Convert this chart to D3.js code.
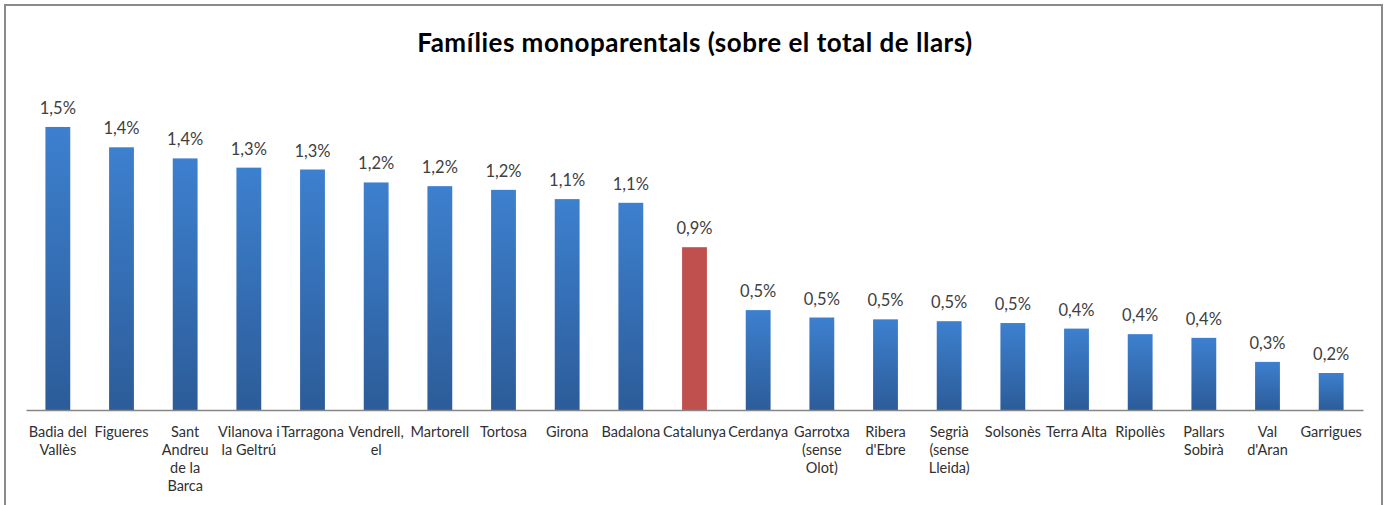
<!DOCTYPE html>
<html>
<head>
<meta charset="utf-8">
<script src="https://cdn.jsdelivr.net/npm/d3@7"></script>
<style>
  body { margin: 0; background: #fff; }
  text { font-family: Lato, "Open Sans", sans-serif; }
</style>
</head>
<body>
<div class="canva"></div>
<script>
// categories ("\n" = line break as shown under the axis)
const categories = [
  'Badia del\nVallès', 'Figueres', 'Sant\nAndreu\nde la\nBarca', 'Vilanova i\nla Geltrú',
  'Tarragona', 'Vendrell,\nel', 'Martorell', 'Tortosa', 'Girona', 'Badalona',
  'Catalunya', 'Cerdanya', 'Garrotxa\n(sense\nOlot)', 'Ribera\nd\'Ebre',
  'Segrià\n(sense\nLleida)', 'Solsonès', 'Terra Alta', 'Ripollès', 'Pallars\nSobirà',
  'Val\nd\'Aran', 'Garrigues'
];

// % of households
const values = [
  1.53, 1.42, 1.36, 1.31, 1.30, 1.23, 1.21, 1.19, 1.14, 1.12,
  0.88, 0.54, 0.50, 0.49, 0.48, 0.47, 0.44, 0.41, 0.39, 0.26, 0.20
];

const highlight = 'Catalunya';

const title = 'Famílies monoparentals (sobre el total de llars)';

const W = 1391, H = 505;

const svg = d3.select('.canva').append('svg')
    .attr('width', W)
    .attr('height', H);

// chart frame
svg.append('rect')
    .attr('x', 5).attr('y', 5)
    .attr('width', 1377).attr('height', 620)
    .attr('fill', '#fff')
    .attr('stroke', '#8a8a8a')
    .attr('stroke-width', 2);

const grad = svg.append('defs').append('linearGradient')
    .attr('id', 'blueGrad')
    .attr('x1', 0).attr('y1', 0).attr('x2', 0).attr('y2', 1);
grad.append('stop').attr('offset', '0%').attr('stop-color', '#3d80cf');
grad.append('stop').attr('offset', '100%').attr('stop-color', '#2c5c99');

const x = d3.scaleBand()
    .domain(categories)
    .range([26, 1363])
    .paddingInner(0.61)
    .paddingOuter(0.305);

const y = d3.scaleLinear()
    .domain([0, 1.6])
    .range([410, 114]);

const data = categories.map((c, i) => ({ cat: c, val: values[i] }));

svg.selectAll('rect.bar')
    .data(data)
    .enter().append('rect')
    .attr('class', 'bar')
    .attr('x', d => x(d.cat))
    .attr('width', x.bandwidth())
    .attr('y', d => y(d.val))
    .attr('height', d => y(0) - y(d.val))
    .attr('fill', d => d.cat === highlight ? '#c0504d' : 'url(#blueGrad)');

// value labels
const fmt = v => d3.format('.1f')(v).replace('.', ',') + '%';
svg.selectAll('text.val')
    .data(data)
    .enter().append('text')
    .attr('class', 'val')
    .attr('x', d => x(d.cat) + x.bandwidth() / 2)
    .attr('y', d => y(d.val) - 13)
    .attr('text-anchor', 'middle')
    .attr('font-size', 16.5)
    .attr('fill', '#404040')
    .text(d => fmt(d.val));

// x axis
const axis = svg.append('g')
    .attr('transform', 'translate(0,410)')
    .call(d3.axisBottom(x).tickSize(0).tickFormat(''));
axis.select('.domain').attr('stroke', '#868686').attr('stroke-width', 1.5);

const lab = svg.selectAll('text.cat')
    .data(categories)
    .enter().append('text')
    .attr('class', 'cat')
    .attr('text-anchor', 'middle')
    .attr('font-size', 14.5)
    .attr('fill', '#303030');

lab.each(function (d) {
    const t = d3.select(this);
    d.split('\n').forEach((line, i) => {
        t.append('tspan')
            .attr('x', x(d) + x.bandwidth() / 2)
            .attr('y', 437 + i * 18)
            .text(line);
    });
});

svg.append('text')
    .attr('x', 695)
    .attr('y', 52)
    .attr('text-anchor', 'middle')
    .attr('font-size', 26)
    .attr('letter-spacing', 0.5)
    .attr('font-weight', 'bold')
    .attr('fill', '#000')
    .text(title);
</script>
</body>
</html>
